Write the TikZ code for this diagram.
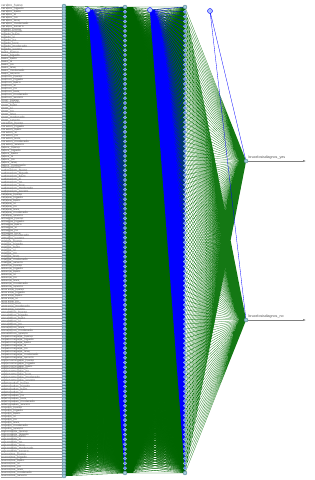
\documentclass[tikz,border=0pt]{standalone}
\usepackage{fontspec}
\setmainfont{Liberation Sans}
\usetikzlibrary{arrows.meta}
\definecolor{nfill}{RGB}{160,205,218}
\definecolor{nline}{RGB}{70,110,130}
\definecolor{hfill}{RGB}{100,130,240}
\definecolor{bfill}{RGB}{175,195,255}
\definecolor{gcol}{RGB}{0,100,0}
\definecolor{gcol2}{RGB}{20,120,20}
\definecolor{bcol}{RGB}{0,0,255}
\definecolor{lblcol}{RGB}{95,95,95}
\definecolor{lnkcol}{RGB}{150,150,150}
\pgfdeclarelayer{bg}
\pgfsetlayers{bg,main}
\begin{document}
\begin{tikzpicture}[x=1pt,y=-1pt,
  nd/.style={circle,inner sep=0pt,minimum size=4pt,fill=nfill,draw=nline,line width=0.3pt},
  hn/.style={circle,inner sep=0pt,minimum size=3.4pt,fill=hfill,draw=nfill,line width=0.3pt},
  bn/.style={circle,inner sep=0pt,minimum size=5pt,fill=bfill,draw=bcol,line width=0.4pt},
  lbl/.style={inner sep=0.15pt,anchor=south west,text=lblcol,font=\fontsize{3.2}{3.4}\selectfont},
  lblline/.style={draw=lnkcol,line width=0.35pt},
  gline/.style={draw=gcol,line width=0.3pt},
  gline2/.style={draw=gcol2,line width=0.25pt},
  bline/.style={draw=bcol,line width=0.3pt},
  outarrow/.style={draw=gray,line width=0.5pt,-{Latex[length=3pt,width=2.2pt]}},
  outlbl/.style={inner sep=0.5pt,anchor=south west,text=black!70,font=\fontsize{3.6}{4}\selectfont}]
\useasboundingbox (0,0) rectangle (315,480);
% input layer with labels
\foreach \s [count=\k] in {cerebro,higado,bazo,pulmon,rinon,corazon,fiebre,sudoracion,cefalea,artralgia,mialgia,astenia,anorexia,escalofrios,hepatomegalia,esplenomegalia,adenopatias,orquitis,espondilitis,leucocitos}{
  \foreach \v [count=\m] in {hueso,higado,bazo,si,no,leve,moderado,severo}{
    \pgfmathtruncatemacro\i{(\k-1)*8+\m}
    \pgfmathsetmacro\y{6+(\i-1)*2.956}
    \node[nd] (i\i) at (64,\y) {};
    \node[lbl] (t\i) at (1,\y+1.4) {\s\_\v};
    \draw[lblline] (t\i.south west) -- (t\i.south west -| i\i.west);
  }
}
% hidden layers
\foreach \j in {1,...,98}{
  \pgfmathsetmacro\y{7+(\j-1)*4.804}
  \ifnum\j=1 \node[nd] (a\j) at (125,\y) {}; \node[nd] (c\j) at (185,\y) {};
  \else\ifnum\j=98 \node[nd] (a\j) at (125,\y) {}; \node[nd] (c\j) at (185,\y) {};
  \else \node[hn] (a\j) at (125,\y) {}; \node[hn] (c\j) at (185,\y) {};
  \fi\fi
}
% bias nodes
\node[bn] (b1) at (88,10) {};
\node[bn] (b2) at (150,10) {};
\node[bn] (b3) at (210,11) {};
% outputs
\node[nd] (o1) at (246,161) {};
\node[nd] (o2) at (246,320) {};
\coordinate (e1) at (306,161);
\coordinate (e2) at (306,320);
\node[outlbl] (ol1) at (248,160) {brucelosisdiagnos\_yes};
\node[outlbl] (ol2) at (248,319) {brucelosisdiagnos\_no};
\draw[outarrow] (o1) -- (e1);
\draw[outarrow] (o2) -- (e2);
% connections
\begin{pgfonlayer}{bg}
\foreach \i in {1,...,160}{
  \draw[gline] foreach \j in {1,...,98}{(i\i.center) -- (a\j.center)};
}
\draw[bline] foreach \j in {1,...,98}{(b1.center) -- (a\j.center)};
\foreach \i in {1,...,98}{
  \draw[gline] foreach \j in {1,...,98}{(a\i.center) -- (c\j.center)};
}
\draw[bline] foreach \j in {1,...,98}{(b2.center) -- (c\j.center)};
\draw[gline2] foreach \j in {1,...,98}{(c\j.center) -- (o1.center) (c\j.center) -- (o2.center)};
\draw[bline] (b3.center) -- (o1.center) (b3.center) -- (o2.center);
\end{pgfonlayer}
\end{tikzpicture}
\end{document}
